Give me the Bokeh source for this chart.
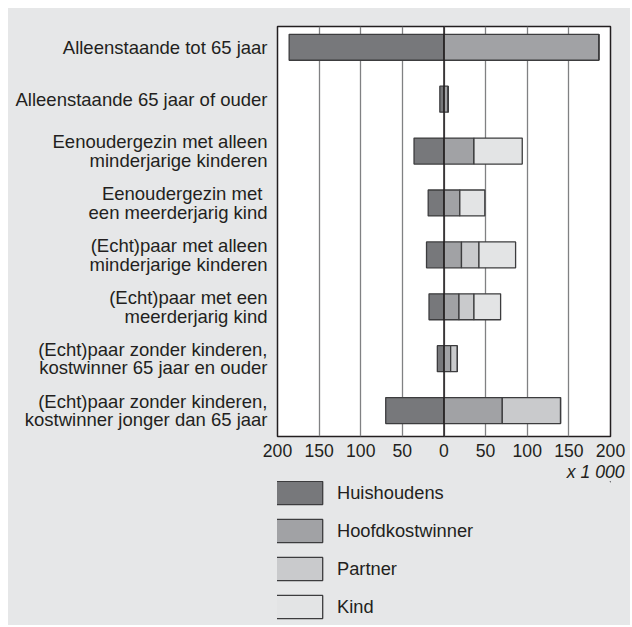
from bokeh.plotting import figure
from bokeh.layouts import column
from bokeh.models import Range1d, FixedTicker, Span, Legend, LegendItem, Title
from bokeh.embed import file_html
from bokeh.resources import INLINE

categories = [
    "Alleenstaande tot 65 jaar",
    "Alleenstaande 65 jaar of ouder",
    "Eenoudergezin met alleen\nminderjarige kinderen",
    "Eenoudergezin met \neen meerderjarig kind",
    "(Echt)paar met alleen\nminderjarige kinderen",
    "(Echt)paar met een\nmeerderjarig kind",
    "(Echt)paar zonder kinderen,\nkostwinner 65 jaar en ouder",
    "(Echt)paar zonder kinderen,\nkostwinner jonger dan 65 jaar",
]
huishoudens = [186, 5, 36, 19, 21, 18, 8, 70]
hoofdkostwinner = [186, 5, 36, 19, 21, 18, 8, 70]
partner = [0, 0, 0, 0, 21, 18, 8, 70]
kind = [0, 0, 58, 30, 44, 32, 0, 0]
x_ticks = [-200, -150, -100, -50, 0, 50, 100, 150, 200]
x_unit_label = "x 1 000"
series_names = ["Huishoudens", "Hoofdkostwinner", "Partner", "Kind"]

FONT = "Liberation Sans"
TXT = "#231f20"
BG = "#e6e7e8"
colors = ["#77787b", "#a1a2a5", "#c9cacc", "#e3e4e5"]
EDGE = "#3c3c3e"
bar_style = dict(line_color=EDGE, line_width=1.3)

ypos = list(range(len(categories)))

p = figure(width=622, height=473,
           x_range=Range1d(-200, 200), y_range=Range1d(7.5, -0.4),
           output_backend="svg", toolbar_location=None,
           min_border_left=269, min_border_right=20, min_border_top=18,
           min_border_bottom=44,
           background_fill_color="white", border_fill_color=BG)
p.outline_line_color = TXT
p.outline_line_width = 1.5

# bars
p.hbar(y=ypos, left=[-v for v in huishoudens], right=[0] * len(ypos), height=0.5,
       fill_color=colors[0], **bar_style)
left = [0] * len(ypos)
for vals, col in zip([hoofdkostwinner, partner, kind], colors[1:]):
    right = [a + b for a, b in zip(left, vals)]
    p.hbar(y=ypos, left=left, right=right, height=0.5, fill_color=col, **bar_style)
    left = right

p.add_layout(Span(location=0, dimension="height", line_color=TXT, line_width=1.5))

# axes
p.yaxis.ticker = FixedTicker(ticks=ypos)
p.yaxis.major_label_overrides = {i: c for i, c in zip(ypos, categories)}
p.xaxis.ticker = FixedTicker(ticks=x_ticks)
p.xaxis.major_label_overrides = {t: str(abs(t)) for t in x_ticks}
for ax in (p.xaxis, p.yaxis):
    ax.axis_line_color = None
    ax.major_tick_line_color = None
    ax.minor_tick_line_color = None
    ax.major_label_text_font = FONT
    ax.major_label_text_color = TXT
p.yaxis.major_label_text_font_size = "18.5px"
p.xaxis.major_label_text_font_size = "17.6px"
p.yaxis.major_label_standoff = 4
p.yaxis.major_label_text_line_height = 0.89
p.xaxis.major_label_standoff = 1

p.ygrid.grid_line_color = None
p.xgrid.ticker = FixedTicker(ticks=x_ticks)
p.xgrid.grid_line_color = "#808183"
p.xgrid.grid_line_width = 1.3

unit = Title(text=x_unit_label, align="right", text_font=FONT, text_font_size="17.6px",
             text_font_style="italic", text_color=TXT, standoff=0, offset=-14)
p.add_layout(unit, "below")

# legend figure
q = figure(width=622, height=144, x_range=Range1d(0, 1), y_range=Range1d(0, 1),
           output_backend="svg", toolbar_location=None,
           x_axis_type=None, y_axis_type=None,
           min_border_left=0, min_border_right=0, min_border_top=0, min_border_bottom=0,
           background_fill_color=BG, border_fill_color=BG)
q.outline_line_color = None
q.grid.grid_line_color = None
items = []
for name, col in zip(series_names, colors):
    r = q.hbar(y=[5], left=[5], right=[6], height=0.5, fill_color=col, **bar_style)
    items.append(LegendItem(label=name, renderers=[r]))
legend = Legend(items=items, location=(-7, 4), orientation="vertical",
                glyph_width=58, glyph_height=29, spacing=9, padding=0, margin=0,
                label_standoff=9, border_line_color=None, background_fill_alpha=0,
                label_text_font=FONT, label_text_font_size="18.3px", label_text_color=TXT)
q.add_layout(legend)

layout = column(p, q, spacing=0, margin=(8, 0, 0, 8), background=BG)
open("out.html", "w").write(file_html(layout, INLINE))
